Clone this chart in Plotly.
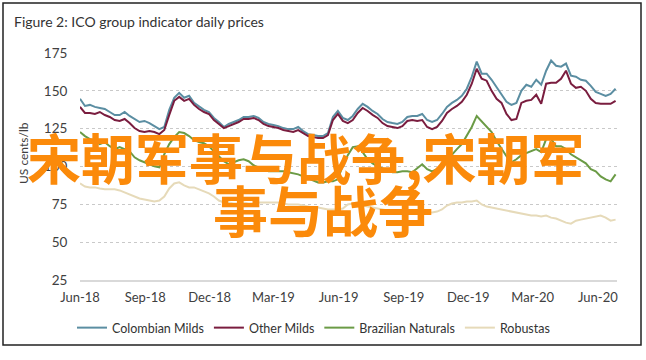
import plotly.graph_objects as go
import pandas as pd

# weekly observation dates
dates = pd.date_range("2018-06-01", periods=109, freq="7D")

colombian_milds = [144.7, 140.0, 140.7, 139.4, 138.7, 138.0, 136.0, 134.0, 134.0, 136.0,
                   133.4, 131.4, 129.4, 130.1, 128.7, 126.7, 124.7, 126.1, 137.4, 145.4,
                   148.7, 145.4, 146.7, 142.0, 139.4, 137.4, 136.0, 132.1, 129.4, 126.1,
                   128.1, 129.4, 130.7, 132.7, 132.7, 133.4, 132.1, 129.4, 128.1, 127.4,
                   126.7, 125.4, 124.7, 124.7, 126.1, 123.4, 121.4, 120.8, 120.1, 120.1,
                   122.1, 132.7, 136.7, 132.1, 130.7, 133.4, 138.0, 141.4, 139.4, 136.7,
                   134.7, 131.4, 129.4, 128.7, 128.1, 129.4, 132.7, 133.4, 133.4, 134.7,
                   130.7, 129.4, 130.7, 134.7, 139.4, 142.0, 144.0, 146.7, 151.4, 159.3,
                   169.3, 161.3, 161.3, 157.3, 152.7, 148.0, 142.7, 140.7, 142.0, 150.0,
                   154.0, 152.7, 157.3, 154.0, 163.3, 170.0, 166.6, 166.0, 168.0, 160.0,
                   159.3, 157.3, 156.7, 153.3, 149.3, 148.0, 146.7, 148.0, 151.4]

other_milds = [139.4, 135.4, 135.4, 134.7, 136.0, 134.0, 132.7, 130.7, 130.1, 131.4,
               128.7, 125.4, 123.4, 122.8, 123.4, 122.8, 121.4, 124.1, 134.1, 143.4,
               146.0, 143.4, 144.7, 140.7, 138.0, 136.0, 134.7, 130.7, 128.1, 125.4,
               126.7, 128.1, 129.4, 131.4, 131.4, 132.1, 130.7, 128.1, 126.7, 126.1,
               125.4, 124.1, 123.4, 122.8, 124.1, 122.1, 120.1, 119.4, 118.8, 118.8,
               120.8, 130.7, 134.7, 130.1, 128.7, 130.7, 135.4, 138.7, 136.7, 134.1,
               132.1, 128.7, 126.7, 126.1, 125.4, 126.7, 130.1, 130.7, 130.1, 130.7,
               126.1, 124.7, 126.1, 130.1, 135.4, 138.0, 140.0, 142.7, 147.4, 154.7,
               164.6, 158.0, 156.7, 150.0, 144.7, 142.0, 134.7, 130.7, 131.4, 142.0,
               143.4, 144.0, 147.4, 141.4, 154.7, 155.3, 155.3, 158.0, 163.3, 154.7,
               152.0, 152.7, 150.0, 144.7, 142.0, 141.4, 141.4, 141.4, 143.4]

brazilian_naturals = [122.8, 120.1, 118.1, 116.8, 114.8, 116.1, 113.4, 111.5, 112.8, 111.5,
                      110.1, 106.1, 104.1, 102.8, 101.5, 100.1, 99.5, 108.1, 114.8, 119.4,
                      122.8, 122.1, 120.1, 117.4, 116.1, 115.4, 113.4, 110.1, 106.8, 103.5,
                      101.5, 102.8, 104.1, 104.8, 103.5, 100.8, 99.5, 98.2, 96.8, 96.8,
                      96.8, 96.8, 96.2, 95.5, 94.8, 93.5, 92.2, 90.8, 89.5, 89.5,
                      90.2, 90.2, 91.5, 100.8, 107.5, 112.8, 113.4, 109.5, 104.8, 102.1,
                      100.1, 98.8, 97.5, 96.2, 96.2, 96.8, 96.8, 96.2, 98.8, 101.5,
                      98.2, 96.8, 98.2, 99.5, 104.1, 108.1, 111.5, 114.8, 120.1, 126.1,
                      133.4, 130.1, 126.7, 122.8, 116.8, 111.5, 106.8, 102.8, 104.8, 107.5,
                      108.8, 110.1, 111.5, 109.5, 118.1, 118.1, 113.4, 113.4, 111.5, 108.1,
                      106.1, 104.1, 102.1, 98.2, 96.8, 93.5, 91.5, 90.2, 94.8]

robustas = [88.8, 86.8, 86.2, 86.2, 85.5, 84.9, 84.9, 84.9, 84.2, 82.9,
            81.5, 80.2, 78.9, 78.2, 77.5, 76.9, 77.5, 80.2, 85.5, 88.8,
            89.5, 87.5, 86.2, 86.2, 84.9, 83.5, 82.2, 80.2, 77.5, 76.2,
            76.2, 75.5, 75.5, 76.2, 75.5, 75.5, 76.2, 76.2, 76.2, 76.2,
            76.2, 75.5, 74.9, 74.9, 74.9, 74.2, 73.5, 72.9, 72.9, 72.2,
            71.6, 71.6, 71.6, 72.2, 74.9, 75.5, 74.9, 74.2, 73.5, 72.9,
            72.2, 71.6, 70.9, 70.2, 70.2, 70.2, 69.6, 69.6, 69.6, 69.6,
            69.6, 69.6, 70.2, 71.6, 74.2, 75.5, 76.2, 76.2, 76.9, 76.9,
            77.5, 74.9, 73.5, 72.9, 72.2, 71.6, 70.9, 70.2, 69.6, 68.9,
            68.2, 67.6, 67.6, 66.9, 67.6, 66.2, 65.6, 64.2, 62.9, 62.2,
            64.2, 64.9, 65.6, 66.2, 66.9, 67.6, 66.2, 64.2, 64.9]

series_names = ["Colombian Milds", "Other Milds", "Brazilian Naturals", "Robustas"]
series_colors = ["#5b8ea2", "#7a1d3f", "#6b9b46", "#e6dab9"]
tick_dates = ["2018-06-01", "2018-09-01", "2018-12-01", "2019-03-01", "2019-06-01",
              "2019-09-01", "2019-12-01", "2020-03-01", "2020-06-01"]
tick_labels = ["Jun-18", "Sep-18", "Dec-18", "Mar-19", "Jun-19",
               "Sep-19", "Dec-19", "Mar-20", "Jun-20"]
y_ticks = [25, 50, 75, 100, 125, 150, 175]

FONT = "Lato"
W, H = 646, 360
L, R, T, B = 80, 29, 53, 80
pw, ph = W - L - R, H - T - B


def px_x(p):
    return (p - L) / pw


def px_y(p):
    return (H - B - p) / ph


fig = go.Figure()
all_series = [colombian_milds, other_milds, brazilian_naturals, robustas]
draw_order = [3, 2, 0, 1]
for idx in draw_order:
    fig.add_trace(go.Scatter(
        x=dates, y=all_series[idx], mode="lines", name=series_names[idx],
        line=dict(color=series_colors[idx], width=2), legendrank=idx + 1,
        hoverinfo="skip",
    ))

fig.update_layout(
    width=W, height=H,
    margin=dict(l=L, r=R, t=T, b=B, autoexpand=False),
    paper_bgcolor="white", plot_bgcolor="white",
    font=dict(family=FONT, color="#404040"),
    title=dict(text="Figure 2: ICO group indicator daily prices",
               x=14 / W, xref="container", xanchor="left",
               y=1 - 22 / H, yref="container", yanchor="middle",
               font=dict(family=FONT, size=14, color="#333333")),
    showlegend=True,
    legend=dict(orientation="h", x=px_x(72), xanchor="left",
                y=px_y(328), yanchor="middle",
                font=dict(family=FONT, size=12.5, color="#333333"),
                traceorder="normal", bgcolor="rgba(0,0,0,0)"),
    xaxis=dict(type="date", range=["2018-06-01", "2020-06-28"],
               tickvals=tick_dates, ticktext=tick_labels,
               showgrid=False, zeroline=False,
               showline=True, linecolor="#d9d9d9", linewidth=1.5,
               ticks="outside", ticklen=5, tickcolor="rgba(0,0,0,0)",
               tickfont=dict(family=FONT, size=13, color="#404040")),
    yaxis=dict(range=[25, 175], tickvals=y_ticks,
               showgrid=True, gridcolor="#c9c9c9", griddash="dot", gridwidth=1,
               zeroline=False, showline=False,
               ticks="outside", ticklen=9, tickcolor="rgba(0,0,0,0)",
               tickfont=dict(family=FONT, size=13.5, color="#404040")),
)

fig.add_annotation(text="US cents/lb", textangle=-90, xref="paper", yref="paper",
                   x=px_x(23), y=px_y(153), xanchor="center", yanchor="middle",
                   showarrow=False, font=dict(family=FONT, size=12, color="#404040"))

# overlay watermark text
wm_color = "#fb8a0a"
fig.add_annotation(text="<b>宋朝军事与战争,宋朝军</b>", xref="paper", yref="paper",
                   x=px_x(306), y=px_y(156), xanchor="center", yanchor="middle",
                   showarrow=False,
                   font=dict(family="Noto Sans CJK SC", size=54, color=wm_color))
fig.add_annotation(text="<b>事与战争</b>", xref="paper", yref="paper",
                   x=px_x(323), y=px_y(208), xanchor="center", yanchor="middle",
                   showarrow=False,
                   font=dict(family="Noto Sans CJK SC", size=55, color=wm_color))

# outer frame
fig.add_shape(type="rect", xref="paper", yref="paper",
              x0=px_x(3), x1=px_x(641), y0=px_y(345), y1=px_y(3),
              line=dict(color="#222222", width=1.5), fillcolor="rgba(0,0,0,0)",
              layer="below")

fig.write_html("out.html", config={"displayModeBar": False},
               post_script="document.body.style.margin='0';document.body.style.padding='0';")
